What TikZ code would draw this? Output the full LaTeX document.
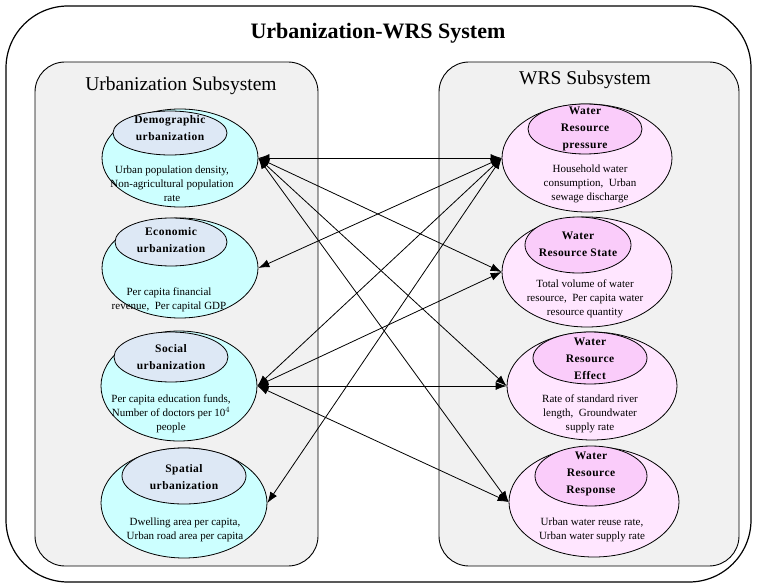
\documentclass[tikz,border=0pt]{standalone}
\usepackage{fontspec}
\setmainfont{Liberation Serif}
\usetikzlibrary{shapes.geometric,arrows.meta}
\definecolor{leftouter}{RGB}{204,255,255}
\definecolor{leftinner}{RGB}{221,232,245}
\definecolor{rightouter}{RGB}{255,230,255}
\definecolor{rightinner}{RGB}{250,204,250}
\definecolor{boxgray}{RGB}{241,241,241}
\begin{document}
\begin{tikzpicture}[x=1pt,y=-1pt,
  subbox/.style={draw,line width=0.9pt,fill=boxgray,rounded corners=30pt},
  ell/.style={ellipse,draw,line width=0.8pt,inner sep=0pt},
  outerL/.style={ell,fill=leftouter},
  innerL/.style={ell,fill=leftinner},
  outerR/.style={ell,fill=rightouter},
  innerR/.style={ell,fill=rightinner},
  lab/.style={align=center,inner sep=0pt,font=\bfseries\fontsize{11.5}{17}\selectfont\addfontfeature{LetterSpace=4}},
  body/.style={align=center,inner sep=0pt,font=\fontsize{11}{14}\selectfont},
  link/.style={line width=0.8pt,{Latex[length=11pt,width=8pt]}-{Latex[length=11pt,width=8pt]}}
]
\useasboundingbox (0,0) rectangle (757,588);
\draw[line width=1.2pt,rounded corners=62pt] (6,6) rectangle (751,582);
\node (title) at (378,33) {\bfseries\fontsize{22}{26}\selectfont Urbanization-WRS System};
\draw[subbox] (35,62) rectangle (318,566);
\draw[subbox] (439,62) rectangle (739,566);
\node (lt) at (181,86) {\fontsize{19.5}{23}\selectfont Urbanization Subsystem};
\node (rt) at (585,80) {\fontsize{19.5}{23}\selectfont WRS Subsystem};
% left outer ellipses
\node[outerL,minimum width=156pt,minimum height=98pt] (D) at (180,158) {};
\node[outerL,minimum width=156pt,minimum height=100pt] (E) at (180,268) {};
\node[outerL,minimum width=156pt,minimum height=110pt] (S) at (179,386) {};
\node[outerL,minimum width=166pt,minimum height=110pt] (Sp) at (184,503) {};
% left inner ellipses
\node[innerL,minimum width=114pt,minimum height=44pt] (Di) at (170,133) {};
\node[innerL,minimum width=112pt,minimum height=48pt] (Ei) at (171,242) {};
\node[innerL,minimum width=114pt,minimum height=50pt] (Si) at (171,357) {};
\node[innerL,minimum width=124pt,minimum height=56pt] (Spi) at (184,476) {};
\node[lab] (Dl) at (170,128) {Demographic\\urbanization};
\node[lab] (El) at (171,240) {Economic\\urbanization};
\node[lab] (Sl) at (171,357) {Social\\urbanization};
\node[lab] (Spl) at (184,477) {Spatial\\urbanization};
\node[body] (Dt) at (172,184) {Urban population density,\\Non-agricultural population\\rate};
\node[body] (Et) at (169,300) {Per capita financial\\revenue,\enspace Per capital GDP};
\node[body] (St) at (171,414) {Per capita education funds,\\Number of doctors per 10$^{4}$\\people};
\node[body] (Spt) at (185,530) {Dwelling area per capita,\\Urban road area per capita};
% right outer ellipses
\node[outerR,minimum width=170pt,minimum height=108pt] (P) at (587,158) {};
\node[outerR,minimum width=170pt,minimum height=110pt] (T) at (587,272) {};
\node[outerR,minimum width=170pt,minimum height=108pt] (F) at (592,386) {};
\node[outerR,minimum width=170pt,minimum height=110pt] (R) at (594,502) {};
% right inner ellipses
\node[innerR,minimum width=114pt,minimum height=50pt] (Pi) at (585,129) {};
\node[innerR,minimum width=106pt,minimum height=56pt] (Ti) at (578,245) {};
\node[innerR,minimum width=114pt,minimum height=52pt] (Fi) at (590,358) {};
\node[innerR,minimum width=112pt,minimum height=60pt] (Ri) at (591,476) {};
\node[lab] (Pl) at (585,129) {Water\\Resource\\pressure};
\node[lab] (Tl) at (578,244) {Water\\Resource State};
\node[lab] (Fl) at (590,359) {Water\\Resource\\Effect};
\node[lab] (Rl) at (591,474) {Water\\Resource\\Response};
\node[body] (Pt) at (590,184) {Household water\\consumption,\enspace Urban\\sewage discharge};
\node[body] (Tt) at (585,299) {Total volume of water\\resource,\enspace Per capita water\\resource quantity};
\node[body] (Ft) at (590,414) {Rate of standard river\\length,\enspace Groundwater\\supply rate};
\node[body] (Rt) at (592,530) {Urban water reuse rate,\\Urban water supply rate};
% links
\draw[link] (D.east) -- (P.west);
\draw[link] (D.east) -- (T.west);
\draw[link] (D.east) -- (F.west);
\draw[link] (D.east) -- (R.west);
\draw[link] (P.west) -- (E.east);
\draw[link] (P.west) -- (S.east);
\draw[link] (P.west) -- (Sp.east);
\draw[link] (S.east) -- (T.west);
\draw[link] (S.east) -- (F.west);
\draw[link] (S.east) -- (R.west);
\end{tikzpicture}
\end{document}
